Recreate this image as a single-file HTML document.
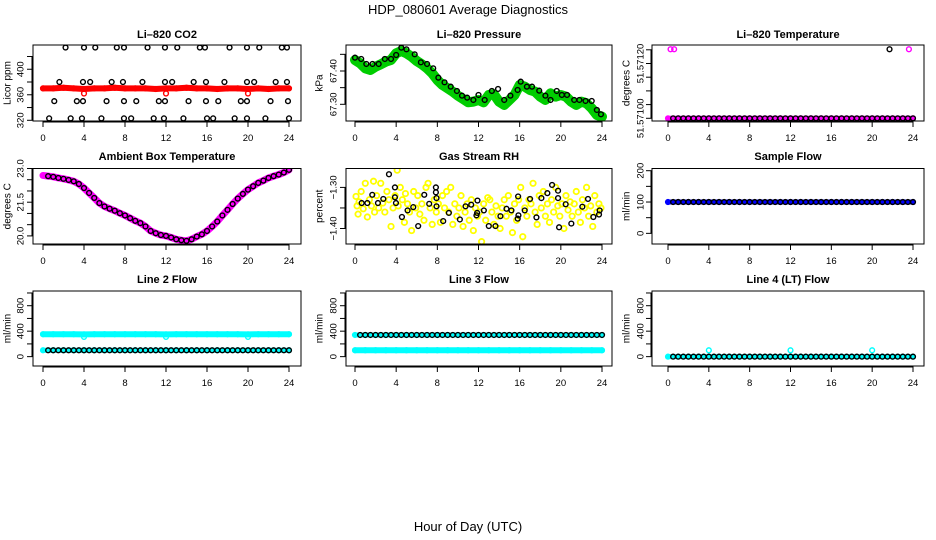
<!DOCTYPE html>
<html><head><meta charset="utf-8"><style>
body{margin:0;background:#fff}
svg{display:block;font-family:"Liberation Sans",Helvetica,Arial,sans-serif}
</style></head><body>
<svg id="chart" width="936" height="540" viewBox="0 0 936 540">
<rect width="936" height="540" fill="#fff"/>
<text x="468" y="14" text-anchor="middle" font-size="13">HDP_080601  Average Diagnostics</text>
<text x="468" y="531" text-anchor="middle" font-size="13">Hour of Day (UTC)</text>
</svg>
<script>
const xTicks=[0,4,8,12,16,20,24];
const hourly=[0,1,2,3,4,5,6,7,8,9,10,11,12,13,14,15,16,17,18,19,20,21,22,23,24];
const halfHours=[0.5,1,1.5,2,2.5,3,3.5,4,4.5,5,5.5,6,6.5,7,7.5,8,8.5,9,9.5,10,10.5,11,11.5,12,12.5,13,13.5,14,14.5,15,15.5,16,16.5,17,17.5,18,18.5,19,19.5,20,20.5,21,21.5,22,22.5,23,23.5,24];
const grid49=[0,0.5,1,1.5,2,2.5,3,3.5,4,4.5,5,5.5,6,6.5,7,7.5,8,8.5,9,9.5,10,10.5,11,11.5,12,12.5,13,13.5,14,14.5,15,15.5,16,16.5,17,17.5,18,18.5,19,19.5,20,20.5,21,21.5,22,22.5,23,23.5,24];
const outlierHours=[4,12,20];

// CO2
const co2Red=[370,370,371,370,369,370,370,371,370,370,370,369,370,370,371,370,370,369,370,370,369,370,369,370,370];
const co2RedOut=[362,362,362];
const co2BlackH=[2.2,4.0,5.1,7.2,7.9,10.2,11.9,13.1,15.3,15.8,18.2,19.9,21.1,23.3,23.8,1.6,3.9,4.6,6.7,7.8,9.7,11.9,12.6,14.7,15.9,17.7,19.9,20.6,22.7,23.8,1.1,3.3,3.9,6.2,7.9,9.1,11.3,11.9,14.2,15.9,17.1,19.3,19.9,22.2,23.9,0.6,2.7,3.8,5.7,7.9,8.6,10.8,11.8,13.7,16.0,16.6,18.7,19.9,21.7,24.0];
const co2BlackV=[434,434,434,434,434,434,434,434,434,434,434,434,434,434,434,380,380,380,380,380,380,380,380,380,380,380,380,380,380,380,350,350,350,350,350,350,350,350,350,350,350,350,350,350,350,323,323,323,323,323,323,323,323,323,323,323,323,323,323,323];
// Pressure
const presGreen=[67.433,67.423,67.408,67.403,67.413,67.420,67.428,67.433,67.453,67.460,67.453,67.443,67.430,67.420,67.408,67.393,67.373,67.358,67.348,67.338,67.326,67.316,67.306,67.308,67.313,67.306,67.328,67.330,67.308,67.298,67.313,67.328,67.358,67.353,67.343,67.338,67.323,67.313,67.333,67.323,67.328,67.323,67.308,67.298,67.308,67.303,67.288,67.268,67.263];
const presBlackH=[0,0.6,1.1,1.7,2.3,2.9,3.5,4,4.5,5,5.8,6.4,7,7.6,8.1,8.7,9.3,9.9,10.4,10.9,11.5,12,12.6,13.3,13.9,14.5,15.1,15.8,16.1,16.7,17.2,17.9,18.5,19,19.6,20.1,20.6,21.3,21.8,22.4,23,23.5,23.9];
const presBlackV=[67.440,67.436,67.421,67.421,67.421,67.436,67.436,67.448,67.470,67.465,67.450,67.426,67.421,67.408,67.380,67.366,67.353,67.340,67.326,67.320,67.313,67.328,67.313,67.340,67.346,67.313,67.326,67.343,67.368,67.353,67.353,67.341,67.326,67.313,67.340,67.328,67.328,67.313,67.313,67.310,67.310,67.283,67.270];
// Li-820 temperature
const tempMag=[51.571,51.571,51.571,51.571,51.571,51.571,51.571,51.571,51.571,51.571,51.571,51.571,51.571,51.571,51.571,51.571,51.571,51.571,51.571,51.571,51.571,51.571,51.571,51.571,51.571];
const tempMagTopH=[0.25,0.6,23.6];
const tempMagTopV=[51.571252,51.571252,51.571252];
const tempBlackTopH=[21.7];
const tempBlackTopV=[51.571252];
// Ambient
const ambMag=[22.69,22.66,22.63,22.58,22.54,22.49,22.43,22.31,22.13,21.91,21.69,21.46,21.31,21.21,21.12,21.01,20.91,20.79,20.67,20.57,20.42,20.22,20.12,20.04,20.0,19.93,19.85,19.81,19.78,19.85,19.97,20.07,20.22,20.42,20.64,20.91,21.16,21.42,21.66,21.87,22.06,22.21,22.36,22.46,22.58,22.66,22.73,22.82,22.94];
// RH
const rhYH=[0.1,0.2,0.3,0.4,0.6,0.8,1.0,1.2,1.4,1.6,1.8,1.9,2.1,2.3,2.5,2.7,2.9,3.1,3.3,3.5,3.7,3.9,4.1,4.2,4.4,4.6,4.8,4.9,5.1,5.3,5.5,5.7,5.9,6.1,6.3,6.5,6.7,6.9,7.1,7.3,7.5,7.7,7.9,8.1,8.3,8.5,8.7,8.9,9.1,9.3,9.5,9.7,9.9,10.1,10.3,10.5,10.7,10.9,11.1,11.3,11.5,11.7,11.9,12.1,12.3,12.5,12.7,12.9,13.1,13.3,13.5,13.7,13.9,14.1,14.3,14.5,14.7,14.9,15.1,15.3,15.5,15.7,15.9,16.1,16.3,16.5,16.7,16.9,17.1,17.3,17.5,17.7,17.9,18.1,18.3,18.5,18.7,18.9,19.1,19.3,19.5,19.7,19.9,20.1,20.3,20.5,20.7,20.9,21.1,21.3,21.5,21.7,21.9,22.1,22.3,22.5,22.7,22.9,23.1,23.3,23.5,23.7,23.9];
const rhYV=[-1.322,-1.345,-1.365,-1.335,-1.31,-1.352,-1.29,-1.372,-1.33,-1.345,-1.285,-1.36,-1.32,-1.35,-1.29,-1.338,-1.36,-1.31,-1.33,-1.395,-1.35,-1.32,-1.258,-1.345,-1.30,-1.33,-1.385,-1.315,-1.34,-1.36,-1.405,-1.31,-1.35,-1.32,-1.365,-1.34,-1.38,-1.30,-1.29,-1.35,-1.39,-1.33,-1.36,-1.34,-1.385,-1.32,-1.35,-1.31,-1.36,-1.30,-1.39,-1.34,-1.37,-1.35,-1.32,-1.395,-1.36,-1.34,-1.38,-1.33,-1.405,-1.35,-1.37,-1.36,-1.432,-1.34,-1.38,-1.325,-1.33,-1.36,-1.39,-1.345,-1.37,-1.40,-1.35,-1.33,-1.37,-1.32,-1.36,-1.41,-1.34,-1.38,-1.33,-1.30,-1.42,-1.35,-1.37,-1.33,-1.34,-1.29,-1.36,-1.39,-1.32,-1.35,-1.31,-1.37,-1.34,-1.385,-1.33,-1.36,-1.30,-1.345,-1.37,-1.34,-1.40,-1.32,-1.355,-1.335,-1.37,-1.34,-1.31,-1.36,-1.385,-1.33,-1.35,-1.30,-1.37,-1.345,-1.395,-1.32,-1.36,-1.34,-1.35];
const rhBH=[0.65,1.2,1.68,2.23,2.75,3.3,3.88,3.88,3.98,4.56,5.11,5.66,6.14,6.73,7.21,7.86,7.86,7.92,7.92,8.57,9.12,10.19,10.74,11.29,11.8,11.87,11.9,12.52,13.0,13.65,14.13,14.72,15.2,15.85,15.88,15.81,16.49,17.01,17.63,18.11,18.69,19.15,19.73,19.73,19.83,20.47,21.02,22.09,22.64,23.16,23.71,23.77];
const rhBV=[-1.338,-1.338,-1.318,-1.338,-1.328,-1.268,-1.30,-1.324,-1.338,-1.372,-1.356,-1.348,-1.394,-1.318,-1.34,-1.30,-1.312,-1.326,-1.346,-1.382,-1.362,-1.378,-1.346,-1.342,-1.368,-1.362,-1.332,-1.356,-1.394,-1.394,-1.37,-1.352,-1.356,-1.322,-1.368,-1.376,-1.356,-1.328,-1.373,-1.326,-1.314,-1.294,-1.308,-1.326,-1.397,-1.341,-1.388,-1.347,-1.328,-1.372,-1.366,-1.356];
// Sample flow
const sfBlue=[100,100,100,100,100,100,100,100,100,100,100,100,100,100,100,100,100,100,100,100,100,100,100,100,100];
const sfBlack=[100,100,100,100,100,100,100,100,100,100,100,100,100,100,100,100,100,100,100,100,100,100,100,100,100,100,100,100,100,100,100,100,100,100,100,100,100,100,100,100,100,100,100,100,100,100,100,100];
// Line flows
const l2CyanHigh=[352,352,352,352,350,352,352,352,352,352,352,352,350,352,352,352,352,352,352,352,350,352,352,352,352];
const l2CyanLow=[100,100,100,100,100,100,100,100,100,100,100,100,100,100,100,100,100,100,100,100,100,100,100,100,100];
const l2Dips=[310,310,310];
const l2Black=[100,100,100,100,100,100,100,100,100,100,100,100,100,100,100,100,100,100,100,100,100,100,100,100,100,100,100,100,100,100,100,100,100,100,100,100,100,100,100,100,100,100,100,100,100,100,100,100];
const l3CyanLow=[100,100,100,100,100,100,100,100,100,100,100,100,100,100,100,100,100,100,100,100,100,100,100,100,100];
const l3CyanHigh=[340,340,340,340,340,340,340,340,340,340,340,340,340,340,340,340,340,340,340,340,340,340,340,340,340];
const l3Black=[340,340,340,340,340,340,340,340,340,340,340,340,340,340,340,340,340,340,340,340,340,340,340,340,340,340,340,340,340,340,340,340,340,340,340,340,340,340,340,340,340,340,340,340,340,340,340,340];
const l4Cyan=[0,0,0,0,0,0,0,0,0,0,0,0,0,0,0,0,0,0,0,0,0,0,0,0,0];
const l4Black=[0,0,0,0,0,0,0,0,0,0,0,0,0,0,0,0,0,0,0,0,0,0,0,0,0,0,0,0,0,0,0,0,0,0,0,0,0,0,0,0,0,0,0,0,0,0,0,0];
const l4Out=[100,100,100];

const NS='http://www.w3.org/2000/svg';
const svg=document.getElementById('chart');
function mk(tag,attrs,parent){const e=document.createElementNS(NS,tag);for(const k in attrs)e.setAttribute(k,attrs[k]);(parent||svg).appendChild(e);return e;}

const cols=[{bx0:33,bx1:301,hx0:43,hx1:289,tl:21,tt:8},{bx0:346,bx1:612,hx0:355,hx1:602,tl:334,tt:320},{bx0:652,bx1:924,hx0:668,hx1:913,tl:641,tt:627}];
const rows=[{yt:45,yb:121,ty:38},{yt:168.5,yb:244,ty:160},{yt:291,yb:366,ty:283}];

function panel(c,r,name,title,ylab,ymin,ymax,yticks,ylabels,series){
  const C=cols[c],R=rows[r];
  const g=mk('g',{});
  
  
  const xs=h=>C.hx0+h/24*(C.hx1-C.hx0);
  const ys=v=>R.yb-(v-ymin)/(ymax-ymin)*(R.yb-R.yt);
  const t=mk('text',{x:(C.bx0+C.bx1)/2,y:R.ty,'text-anchor':'middle','font-size':11,'font-weight':'bold'},g);
  t.textContent=title;
  
  
  const yl=mk('text',{transform:`translate(${C.tt},${(R.yt+R.yb)/2}) rotate(-90)`,'text-anchor':'middle','dominant-baseline':'middle','font-size':10},g);
  yl.textContent=ylab;
  
  
  const clip='clip-'+name;
  const cp=mk('clipPath',{id:clip},g);
  mk('rect',{x:C.bx0,y:R.yt,width:C.bx1-C.bx0,height:R.yb-R.yt},cp);
  const plot=mk('g',{'clip-path':`url(#${clip})`},g);
  
  
  series.forEach(s=>{
    const sg=mk('g',{},plot);
    
    
    if(s.band){
      const pts=s.h.map((h,i)=>xs(h)+','+ys(s.v[i])).join(' ');
      const pl=mk('polyline',{points:pts,fill:'none',stroke:s.color,'stroke-width':s.band,'stroke-linejoin':'round','stroke-linecap':'round'},sg);
      
      
    }
    s.h.forEach((h,i)=>{
      const ci=mk('circle',{cx:xs(h),cy:ys(s.v[i]),r:s.r||2.4,fill:'none',stroke:s.color,'stroke-width':s.sw||1.4},sg);
      
      
    });
  });
  const box=mk('rect',{x:C.bx0,y:R.yt,width:C.bx1-C.bx0,height:R.yb-R.yt,fill:'none',stroke:'#000','stroke-width':1},g);
  
  
  const xa=mk('g',{},g);
  
  
  mk('line',{x1:xs(0),x2:xs(24),y1:R.yb+1,y2:R.yb+1,stroke:'#000'},xa);
  xTicks.forEach(v=>{
    mk('line',{x1:xs(v),x2:xs(v),y1:R.yb,y2:R.yb+6,stroke:'#000'},xa);
    const tl=mk('text',{x:xs(v),y:R.yb+20,'text-anchor':'middle','font-size':9.5},xa);
    tl.textContent=v;
    
    
  });
  const ya=mk('g',{},g);
  
  
  mk('line',{x1:C.bx0-1,x2:C.bx0-1,y1:ys(yticks[0]),y2:ys(yticks[yticks.length-1]),stroke:'#000'},ya);
  yticks.forEach((v,i)=>{
    mk('line',{x1:C.bx0,x2:C.bx0-6,y1:ys(v),y2:ys(v),stroke:'#000'},ya);
    if(ylabels[i]){
      const tl=mk('text',{transform:`translate(${C.tl},${ys(v)}) rotate(-90)`,'text-anchor':'middle','dominant-baseline':'middle','font-size':9.5},ya);
      tl.textContent=ylabels[i];
      
      
    }
  });
}

panel(0,0,'co2','Li\u2013820 CO2','Licor ppm',318.9,438,[320,340,360,380,400,420],['320','','360','','400',''],[
  {n:'red-series',h:hourly,v:co2Red,color:'#ff0000',band:6},
  {n:'red-outliers',h:outlierHours,v:co2RedOut,color:'#ff0000'},
  {n:'black-series',h:co2BlackH,v:co2BlackV,color:'#000'}]);
panel(1,0,'pressure','Li\u2013820 Pressure','kPa',67.2499,67.478,[67.30,67.35,67.40,67.45],['67.30','','67.40',''],[
  {n:'green-series',h:grid49,v:presGreen,color:'#00cd00',band:10},
  {n:'black-series',h:presBlackH,v:presBlackV,color:'#000'}]);
panel(2,0,'licor-temp','Li\u2013820 Temperature','degrees C',51.5709901,51.5712675,[51.571,51.57105,51.5711,51.57115,51.5712,51.57125],['51.57100','','','','51.57120',''],[
  {n:'magenta-series',h:hourly,v:tempMag,color:'#ff00ff',band:5},
  {n:'magenta-top',h:tempMagTopH,v:tempMagTopV,color:'#ff00ff'},
  {n:'black-series',h:halfHours,v:halfHours.map(()=>tempMag[0]),color:'#000'},
  {n:'black-top',h:tempBlackTopH,v:tempBlackTopV,color:'#000'}]);
panel(0,1,'ambient','Ambient Box Temperature','degrees C',19.64,23.0,[20,20.5,21,21.5,22,22.5,23],['20.0','','','21.5','','','23.0'],[
  {n:'magenta-series',h:grid49,v:ambMag,color:'#ff00ff',band:7},
  {n:'black-series',h:grid49.slice(1),v:ambMag.slice(1),color:'#000'}]);
panel(1,1,'rh','Gas Stream RH','percent',-1.4377,-1.254,[-1.40,-1.35,-1.30],['\u22121.40','','\u22121.30'],[
  {n:'yellow-series',h:rhYH,v:rhYV,color:'#ffff00',r:2.7,sw:1.8},
  {n:'black-series',h:rhBH,v:rhBV,color:'#000'}]);
panel(2,1,'sample-flow','Sample Flow','ml/min',-34,207,[0,50,100,150,200],['0','','100','','200'],[
  {n:'blue-series',h:hourly,v:sfBlue,color:'#0000ff',band:5},
  {n:'black-series',h:halfHours,v:sfBlack,color:'#000'}]);
panel(0,2,'line2-flow','Line 2 Flow','ml/min',-147,1031,[0,200,400,600,800,1000],['0','','400','','800',''],[
  {n:'cyan-high',h:hourly,v:l2CyanHigh,color:'#00ffff',band:6},
  {n:'cyan-dips',h:outlierHours,v:l2Dips,color:'#00ffff'},
  {n:'cyan-low',h:hourly,v:l2CyanLow,color:'#00ffff',band:5},
  {n:'black-series',h:halfHours,v:l2Black,color:'#000'}]);
panel(1,2,'line3-flow','Line 3 Flow','ml/min',-147,1031,[0,200,400,600,800,1000],['0','','400','','800',''],[
  {n:'cyan-low',h:hourly,v:l3CyanLow,color:'#00ffff',band:6},
  {n:'cyan-high',h:hourly,v:l3CyanHigh,color:'#00ffff',band:5},
  {n:'black-series',h:halfHours,v:l3Black,color:'#000'}]);
panel(2,2,'line4-flow','Line 4 (LT) Flow','ml/min',-147,1031,[0,200,400,600,800,1000],['0','','400','','800',''],[
  {n:'cyan-series',h:hourly,v:l4Cyan,color:'#00ffff',band:5},
  {n:'cyan-outliers',h:outlierHours,v:l4Out,color:'#00ffff'},
  {n:'black-series',h:halfHours,v:l4Black,color:'#000'}]);
</script>
</body></html>
